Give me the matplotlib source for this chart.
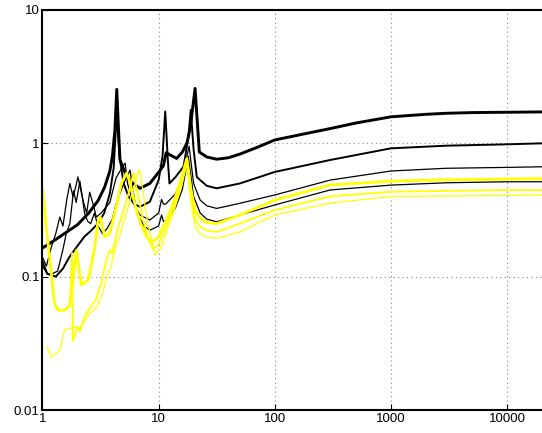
import numpy as np
import matplotlib.pyplot as plt

plt.rcParams['font.family'] = ['Liberation Sans', 'DejaVu Sans']

# black curves
k1_x = [1, 1.3, 1.6, 2, 2.5, 3, 3.43, 3.8, 4.0, 4.2, 4.36, 4.5, 4.65, 5.15, 5.67, 6.9, 8.4,
        10.2, 11.0, 11.6, 12.2, 14.3, 16.0, 17.5, 18.7, 20.6, 22.4, 26, 31.6, 40, 50, 70,
        100, 200, 300, 500, 1000, 2000, 3000, 5000, 10000, 20000]
k1_y = [0.164, 0.19, 0.215, 0.245, 0.3, 0.37, 0.47, 0.62, 0.8, 1.25, 2.54, 1.35, 0.75, 0.6,
        0.52, 0.46, 0.5, 0.62, 0.68, 0.85, 0.83, 0.77, 0.86, 1.0, 1.3, 2.58, 0.86, 0.79, 0.76,
        0.78, 0.83, 0.93, 1.06, 1.2, 1.29, 1.42, 1.58, 1.65, 1.68, 1.70, 1.71, 1.72]

k2_x = [1, 1.1, 1.3, 1.5, 1.7, 2.0, 2.3, 2.6, 3.0, 3.4, 3.8, 4.1, 4.36, 4.6, 5.0, 5.5, 6.2,
        6.9, 8.4, 10, 10.8, 11.4, 12.0, 12.4, 14, 16.4, 18, 18.9, 20, 21.3, 22.8, 26, 31.6,
        50, 100, 300, 1000, 3000, 10000, 20000]
k2_y = [0.13, 0.105, 0.1, 0.115, 0.14, 0.17, 0.2, 0.22, 0.25, 0.3, 0.42, 0.65, 1.7, 0.8,
        0.5, 0.4, 0.35, 0.334, 0.365, 0.53, 0.8, 1.73, 0.75, 0.5, 0.56, 0.67, 1.1, 1.78, 0.9,
        0.56, 0.53, 0.48, 0.46, 0.5, 0.61, 0.75, 0.917, 0.96, 0.983, 1.0]

k3_x = [1.0, 1.08, 1.2, 1.3, 1.41, 1.5, 1.62, 1.72, 1.83, 1.93, 2.02, 2.23, 2.4, 2.55, 2.75,
        2.91, 3.2, 3.5, 3.8, 4.3, 4.8, 5.15, 5.4, 6.0, 6.9, 8.4, 10, 10.6, 11.0, 11.5, 14, 16,
        18.3, 20, 22.8, 26, 31.6, 50, 100, 300, 1000, 3000, 10000, 20000]
k3_y = [0.14, 0.12, 0.17, 0.21, 0.28, 0.24, 0.38, 0.5, 0.4, 0.47, 0.56, 0.375, 0.3, 0.43,
        0.34, 0.28, 0.3, 0.33, 0.36, 0.55, 0.65, 0.71, 0.5, 0.36, 0.29, 0.266, 0.3, 0.38, 0.35,
        0.35, 0.42, 0.55, 0.95, 0.5, 0.375, 0.34, 0.325, 0.355, 0.41, 0.53, 0.62, 0.65, 0.66,
        0.667]

k4_x = [1.0, 1.1, 1.2, 1.35, 1.5, 1.6, 1.72, 1.85, 1.95, 2.1, 2.2, 2.3, 2.45, 2.6, 2.8, 3.0,
        3.3, 3.6, 4.0, 4.3, 5.0, 5.68, 6.0, 6.5, 7.5, 8.4, 10, 10.6, 11.0, 11.5, 14, 16, 18,
        20, 22.8, 26, 31.6, 50, 100, 300, 1000, 3000, 10000, 20000]
k4_y = [0.12, 0.105, 0.105, 0.11, 0.16, 0.21, 0.25, 0.44, 0.36, 0.52, 0.4, 0.3, 0.26, 0.25,
        0.3, 0.24, 0.21, 0.23, 0.27, 0.35, 0.5, 0.63, 0.45, 0.3, 0.24, 0.223, 0.24, 0.29, 0.26,
        0.26, 0.33, 0.45, 0.8, 0.4, 0.3, 0.27, 0.258, 0.29, 0.345, 0.447, 0.486, 0.506, 0.515,
        0.515]

# yellow curves
y1_x = [1.0, 1.1, 1.27, 1.36, 1.55, 1.72, 1.96, 2.16, 2.47, 2.8, 3.0, 3.14, 3.43, 3.79, 4.3,
        4.78, 5.3, 5.7, 6.3, 7.0, 8.0, 8.7, 10, 12, 14, 16, 17.5, 19, 20.6, 22.8, 26, 31.6,
        50, 100, 300, 1000, 3000, 10000, 20000]
y1_y = [0.46, 0.2, 0.063, 0.056, 0.056, 0.061, 0.158, 0.087, 0.094, 0.16, 0.258, 0.28, 0.2,
        0.21, 0.33, 0.5, 0.6, 0.5, 0.34, 0.25, 0.195, 0.18, 0.2, 0.28, 0.4, 0.58, 0.77, 0.45,
        0.315, 0.274, 0.255, 0.25, 0.29, 0.375, 0.487, 0.52, 0.533, 0.54, 0.543]

y2_x = [1.72, 1.8, 1.83, 2.0, 2.1, 2.3, 2.55, 2.9, 3.2, 3.55, 3.79, 4.0, 4.48, 4.9, 5.5,
        6.1, 6.5, 7.2, 8.0, 9.0, 10, 12, 14, 16, 17.5, 19, 20.6, 22.8, 26, 31.6, 50, 100, 300,
        1000, 3000, 10000, 20000]
y2_y = [0.061, 0.15, 0.033, 0.042, 0.039, 0.05, 0.058, 0.068, 0.09, 0.133, 0.158, 0.15,
        0.237, 0.3, 0.42, 0.6, 0.45, 0.29, 0.2, 0.16, 0.175, 0.25, 0.37, 0.54, 0.73, 0.4, 0.27,
        0.237, 0.222, 0.217, 0.25, 0.316, 0.4, 0.433, 0.44, 0.446, 0.446]

y3_x = [1.1, 1.19, 1.41, 1.55, 1.72, 1.9, 2.09, 2.25, 2.55, 2.93, 3.21, 3.67, 3.9, 4.2, 4.6,
        5.15, 5.6, 6.2, 6.8, 7.3, 8.0, 9.3, 10.5, 12, 14, 16, 17.5, 19, 20.6, 22.8, 26, 31.6,
        50, 100, 300, 1000, 3000, 10000, 20000]
y3_y = [0.03, 0.025, 0.028, 0.04, 0.041, 0.042, 0.041, 0.045, 0.053, 0.059, 0.071, 0.106,
        0.12, 0.16, 0.2, 0.28, 0.36, 0.48, 0.64, 0.45, 0.26, 0.145, 0.165, 0.23, 0.34, 0.5,
        0.7, 0.36, 0.24, 0.21, 0.198, 0.194, 0.217, 0.29, 0.356, 0.40, 0.403, 0.407, 0.41]

x_ticks = [1, 10, 100, 1000, 10000]
x_labels = ['1', '10', '100', '1000', '10000']
y_ticks = [0.01, 0.1, 1, 10]
y_labels = ['0.01', '0.1', '1', '10']

fig = plt.figure(figsize=(5.42, 4.33), dpi=100)
ax = fig.add_axes([0.0784, 0.053, 0.9216, 0.924])

ax.plot(k1_x, k1_y, color='black', lw=2.1)
ax.plot(k2_x, k2_y, color='black', lw=1.4)
ax.plot(k3_x, k3_y, color='black', lw=0.9)
ax.plot(k4_x, k4_y, color='black', lw=0.9)
ax.plot(y1_x, y1_y, color='yellow', lw=2.0)
ax.plot(y2_x, y2_y, color='yellow', lw=1.3)
ax.plot(y3_x, y3_y, color='yellow', lw=0.9)

ax.set_xscale('log')
ax.set_yscale('log')
ax.set_xlim(1, 20000)
ax.set_ylim(0.01, 10)
ax.set_xticks(x_ticks)
ax.set_xticklabels(x_labels)
ax.set_yticks(y_ticks)
ax.set_yticklabels(y_labels)
ax.minorticks_off()
ax.tick_params(direction='in', length=4, width=0.8, labelsize=9.5, pad=2)
ax.grid(True, which='major', color='#888888', linestyle=(0, (1, 3)), linewidth=0.8)
for side in ['left', 'bottom', 'top']:
    ax.spines[side].set_linewidth(1.5)
ax.spines['right'].set_visible(False)

fig.savefig('out.png', dpi=100)
